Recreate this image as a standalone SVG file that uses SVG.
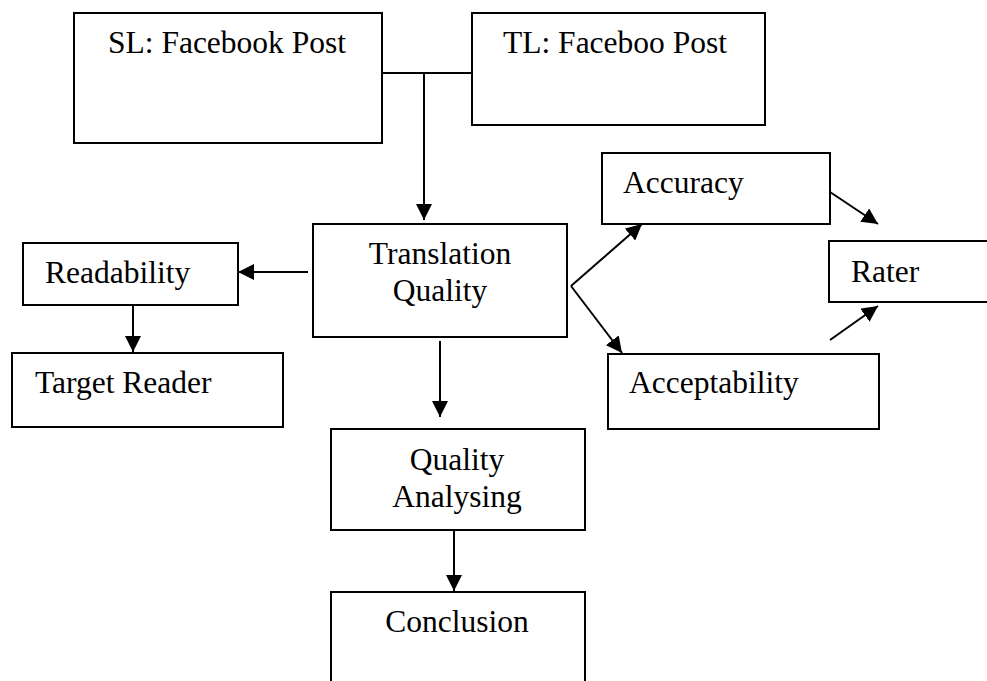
<svg xmlns="http://www.w3.org/2000/svg" width="987" height="681" viewBox="0 0 987 681">
<style>
.box{fill:#fff;stroke:#000;stroke-width:2}
.t{font-family:"Liberation Serif","Times New Roman",serif;font-size:31.5px;fill:#000}
.c{text-anchor:middle}
.ln{fill:none;stroke:#000;stroke-width:2}
.ar{marker-end:url(#ah)}
</style>
<defs>
<marker id="ah" markerUnits="userSpaceOnUse" markerWidth="17" markerHeight="16" refX="16" refY="8" orient="auto">
<path d="M0,0 L16,8 L0,16 Z" fill="#000"/>
</marker>
</defs>
<rect width="987" height="681" fill="#fff"/>
<g id="sl"><rect class="box" x="74" y="13" width="308" height="130"/><text class="t" x="108" y="53">SL: Facebook Post</text></g>
<g id="tl"><rect class="box" x="472" y="13" width="293" height="112"/><text class="t" x="503" y="53">TL: Faceboo Post</text></g>
<g id="accuracy"><rect class="box" x="602" y="153" width="228" height="71"/><text class="t" x="623" y="193">Accuracy</text></g>
<g id="readability"><rect class="box" x="23" y="243" width="215" height="62"/><text class="t" x="45" y="283">Readability</text></g>
<g id="tq"><rect class="box" x="313" y="224" width="254" height="113"/><text class="t c" x="440" y="264">Translation</text><text class="t c" x="440" y="301">Quality</text></g>
<g id="rater"><rect class="box" x="829" y="241" width="170" height="61"/><text class="t" x="851" y="282">Rater</text></g>
<g id="target"><rect class="box" x="12" y="353" width="271" height="74"/><text class="t" x="35" y="393">Target Reader</text></g>
<g id="acceptability"><rect class="box" x="608" y="354" width="271" height="75"/><text class="t" x="629" y="393">Acceptability</text></g>
<g id="qa"><rect class="box" x="331" y="429" width="254" height="101"/><text class="t c" x="457" y="470">Quality</text><text class="t c" x="457" y="507">Analysing</text></g>
<g id="conclusion"><path class="ln" d="M331,690 V592 H585 V690"/><text class="t c" x="457" y="632">Conclusion</text></g>
<g id="connectors">
<path class="ln" d="M382,73 H472"/>
<path class="ln ar" d="M424,73 V220"/>
<path class="ln ar" d="M308,272 H238"/>
<path class="ln ar" d="M133,305 V352"/>
<path class="ln ar" d="M440,341 V417"/>
<path class="ln ar" d="M454,530 V591"/>
<path class="ln ar" d="M571,286 L642,224"/>
<path class="ln ar" d="M571,286 L622,353"/>
<path class="ln ar" d="M830,192 L878,224"/>
<path class="ln ar" d="M830,340 L878,306"/>
</g>
</svg>
